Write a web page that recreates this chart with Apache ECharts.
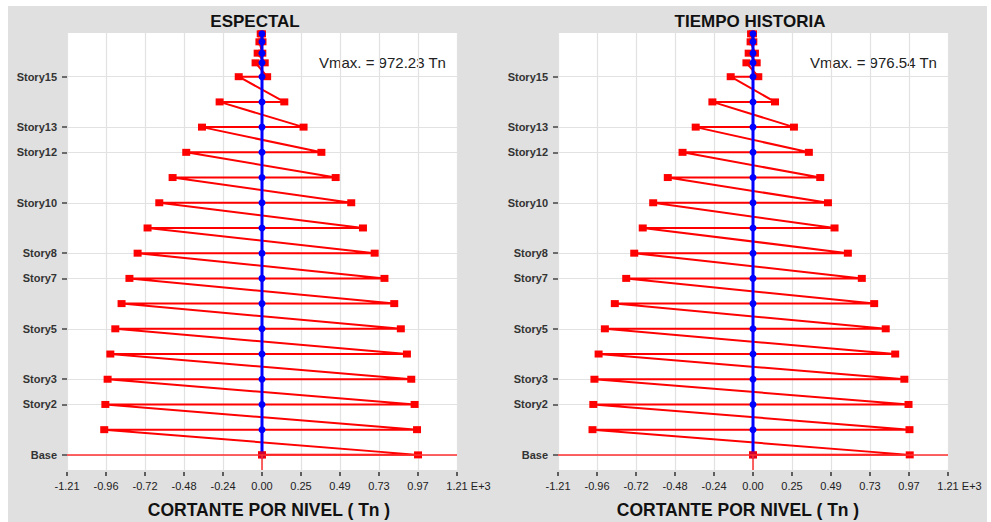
<!DOCTYPE html>
<html>
<head>
<meta charset="utf-8">
<title>Cortante por nivel</title>
<script src="https://cdn.jsdelivr.net/npm/echarts@6/dist/echarts.min.js"></script>
<style>
  html, body { margin: 0; padding: 0; background: #ffffff; }
  #chart { width: 991px; height: 522px; }
</style>
</head>
<body>
<div id="chart"></div>
<script>
// Story levels, from the base upward, and their elevations (m)
const storyNames = ['Base', 'Story1', 'Story2', 'Story3', 'Story4', 'Story5', 'Story6', 'Story7',
  'Story8', 'Story9', 'Story10', 'Story11', 'Story12', 'Story13', 'Story14', 'Story15',
  'Story16', 'Story17', 'Story18', 'Story19'];
const elevations = [0, 3, 6, 9, 12, 15, 18, 21, 24, 27, 30, 33, 36, 39, 42, 45, 46.65, 47.8, 49.15, 50.1];
const labeledStories = ['Base', 'Story2', 'Story3', 'Story5', 'Story7', 'Story8', 'Story10', 'Story12', 'Story13', 'Story15'];

// Shear axis tick labels (E+3 Tn)
const xTickLabels = ['-1.21', '-0.96', '-0.72', '-0.48', '-0.24', '0.00', '0.25', '0.49', '0.73', '0.97', '1.21'];

const panelTitles = ['ESPECTAL', 'TIEMPO HISTORIA'];
const vmaxValues = [972.23, 976.54];

// Spectral analysis: story shear at each level (Tn), negative and positive ends
const espectalLeft = [0, -983, -976, -962, -945, -914, -875, -826, -775, -713, -640, -557, -472, -374, -264, -145, -40, -27, -16, -8];
const espectalRight = [972.23, 966, 951, 930, 903, 865, 824, 763, 702, 629, 556, 459, 370, 259, 139, 32, 17, 2, 3, 0];

// Time-history analysis: story shear at each level (Tn)
const historiaLeft = [0, -1000, -995, -988, -962, -923, -861, -790, -740, -687, -622, -531, -439, -357, -253, -139, -41, -27, -15, -12];
const historiaRight = [976.54, 975, 969, 943, 886, 827, 755, 678, 591, 508, 467, 419, 348, 255, 137, 33, 23, 12, 2, 0];

const FONT = '"Liberation Sans", Arial, Helvetica, sans-serif';
const X_MIN = -1215, X_MAX = 1215, X_STEP = 243;
const Y_MIN = -1.8, Y_MAX = 50.2;

const labeledElevations = labeledStories.map(n => elevations[storyNames.indexOf(n)]);

function storyAt(v) {
  const i = elevations.findIndex(e => Math.abs(e - v) < 1e-6);
  return i >= 0 ? storyNames[i] : '';
}

// Zigzag path: at each level go right end -> left end, then drop to the right end of the level below
function zigzag(left, right) {
  const pts = [];
  for (let i = elevations.length - 1; i >= 0; i--) {
    pts.push([right[i], elevations[i]]);
    pts.push([left[i], elevations[i]]);
  }
  return pts;
}

const panels = [
  { left: espectalLeft, right: espectalRight, gridLeft: 67, titleX: 255, nameX: 269 },
  { left: historiaLeft, right: historiaRight, gridLeft: 558, titleX: 750, nameX: 738 }
];

const grids = [], xAxes = [], yAxes = [], series = [], graphics = [];

graphics.push({
  type: 'rect', z: -100, silent: true,
  shape: { x: 8, y: 6, width: 979, height: 516 },
  style: { fill: '#e0e0e0' }
});

const hiddenLine = { show: true, onZero: false, lineStyle: { color: 'rgba(0,0,0,0)', width: 0 } };

panels.forEach((p, i) => {
  grids.push({
    left: p.gridLeft, top: 33, width: 390, height: 437,
    show: true, backgroundColor: '#ffffff', borderWidth: 0
  });

  xAxes.push({
    gridIndex: i, type: 'value', position: 'bottom', min: X_MIN, max: X_MAX, interval: X_STEP,
    offset: 2,
    axisLine: hiddenLine,
    axisTick: { show: true, inside: false, length: 4, lineStyle: { color: '#333', width: 1.5 } },
    axisLabel: {
      margin: 8, fontSize: 11, color: '#222', fontFamily: FONT,
      formatter: v => {
        const k = Math.round((v - X_MIN) / X_STEP);
        const t = xTickLabels[k];
        return k === xTickLabels.length - 1 ? '{pad|}{n|' + t + '}{e| E+3}' : t;
      },
      rich: {
        pad: { width: 23 },
        n: { fontSize: 11, color: '#222', fontFamily: FONT },
        e: { fontSize: 11, color: '#222', fontFamily: FONT }
      }
    },
    splitLine: { show: true, lineStyle: { color: '#e2e2e2', width: 1.2 } }
  });

  yAxes.push({
    gridIndex: i, type: 'value', position: 'left', min: Y_MIN, max: Y_MAX,
    axisLine: hiddenLine,
    axisTick: { show: true, inside: false, length: 5, customValues: labeledElevations, lineStyle: { color: '#444', width: 1.5 } },
    axisLabel: {
      customValues: labeledElevations, margin: 10,
      fontSize: 11, fontWeight: 'bold', color: '#333', fontFamily: FONT,
      formatter: v => storyAt(v)
    },
    splitLine: { show: true, lineStyle: { color: '#e2e2e2', width: 1.2 } }
  });

  // Red shear envelope
  series.push({
    type: 'line', xAxisIndex: i, yAxisIndex: i, z: 2,
    data: zigzag(p.left, p.right),
    symbol: 'rect', symbolSize: [8, 7],
    lineStyle: { color: '#ff0000', width: 2 },
    itemStyle: { color: '#ff0000' },
    markLine: {
      silent: true, symbol: 'none', animation: false,
      label: { show: false },
      lineStyle: { color: '#ff3030', width: 1.5, type: 'solid' },
      data: [
        { yAxis: elevations[0] },
        [{ coord: [0, elevations[0]] }, { coord: [0, Y_MIN] }]
      ]
    }
  });

  // Blue reference line at zero shear
  series.push({
    type: 'line', xAxisIndex: i, yAxisIndex: i, z: 3,
    data: elevations.map(e => [0, e]),
    symbol: 'circle', symbolSize: 7,
    lineStyle: { color: '#0000ff', width: 3 },
    itemStyle: { color: '#0000ff' }
  });

  // Base point of the envelope
  series.push({
    type: 'scatter', xAxisIndex: i, yAxisIndex: i, z: 4,
    data: [[p.left[0], elevations[0]]],
    symbol: 'rect', symbolSize: [8, 7],
    itemStyle: { color: '#ff0000' }
  });

  graphics.push({
    type: 'text', x: p.titleX, y: 21,
    style: { text: panelTitles[i], font: 'bold 17px ' + FONT, fill: '#111', textAlign: 'center', textVerticalAlign: 'middle' }
  });
  graphics.push({
    type: 'text', x: p.gridLeft + 252, y: 62,
    style: { text: 'Vmax. = ' + vmaxValues[i].toFixed(2) + ' Tn', font: '15px ' + FONT, fill: '#222', textAlign: 'left', textVerticalAlign: 'middle' }
  });
  graphics.push({
    type: 'text', x: p.nameX, y: 510,
    style: { text: 'CORTANTE POR NIVEL ( Tn )', font: 'bold 17.5px ' + FONT, fill: '#111', textAlign: 'center', textVerticalAlign: 'middle' }
  });
});

const chart = echarts.init(document.getElementById('chart'), null, { renderer: 'svg' });
chart.setOption({
  animation: false,
  backgroundColor: '#ffffff',
  grid: grids,
  xAxis: xAxes,
  yAxis: yAxes,
  series: series,
  graphic: graphics
});
</script>
</body>
</html>
